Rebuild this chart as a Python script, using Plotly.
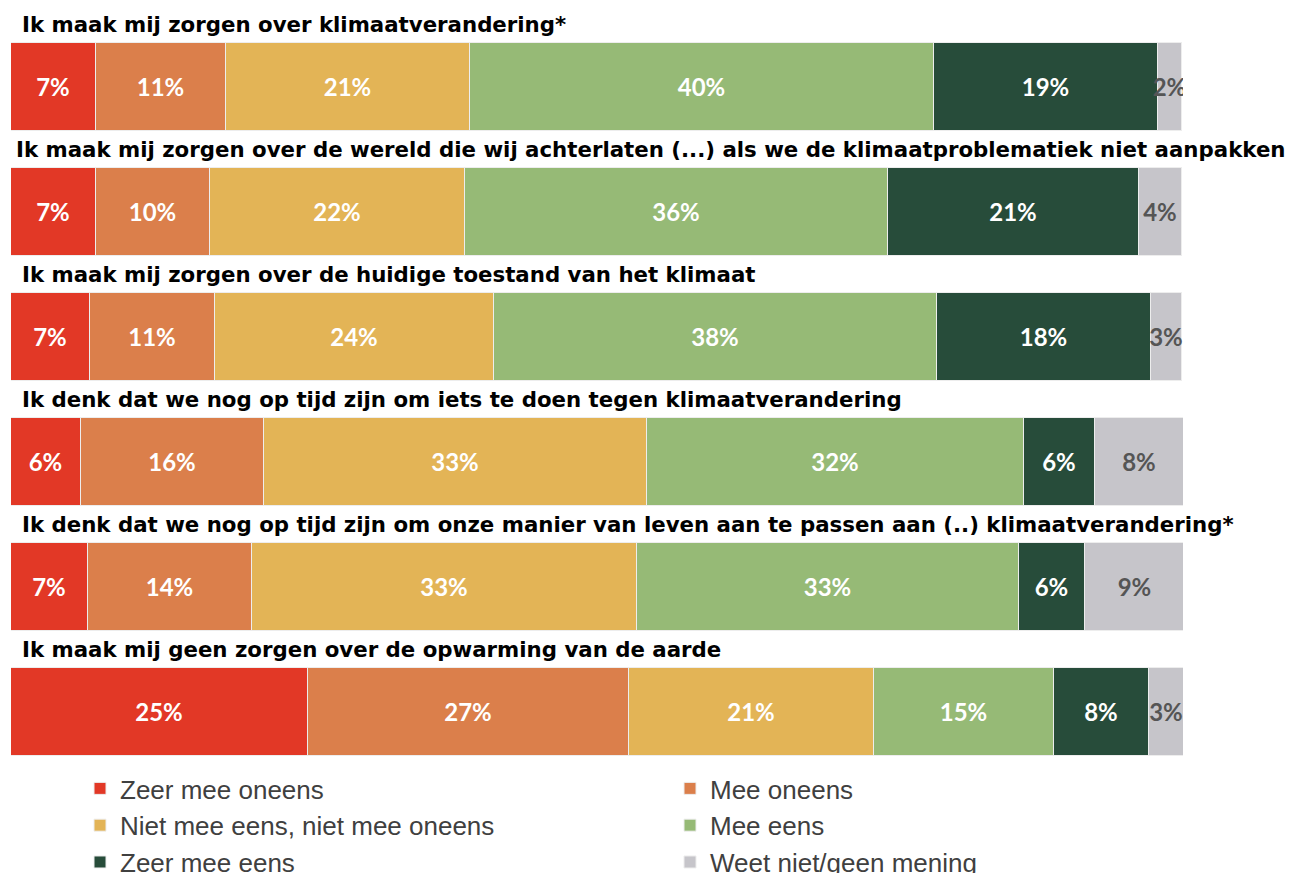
import plotly.graph_objects as go

statements = [
    "Ik maak mij zorgen over klimaatverandering*",
    "Ik maak mij zorgen over de wereld die wij achterlaten (...) als we de klimaatproblematiek niet aanpakken",
    "Ik maak mij zorgen over de huidige toestand van het klimaat",
    "Ik denk dat we nog op tijd zijn om iets te doen tegen klimaatverandering",
    "Ik denk dat we nog op tijd zijn om onze manier van leven aan te passen aan (..) klimaatverandering*",
    "Ik maak mij geen zorgen over de opwarming van de aarde",
]

categories = ["Zeer mee oneens", "Mee oneens", "Niet mee eens, niet mee oneens",
              "Mee eens", "Zeer mee eens", "Weet niet/geen mening"]

zeer_mee_oneens = [7.25, 7.25, 6.7, 6.0, 6.6, 25.3]
mee_oneens = [11.1, 9.7, 10.7, 15.6, 14.0, 27.4]
neutraal = [20.8, 21.8, 23.8, 32.7, 32.8, 20.9]
mee_eens = [39.6, 36.1, 37.8, 32.1, 32.6, 15.4]
zeer_mee_eens = [19.1, 21.4, 18.3, 6.1, 5.6, 8.1]
weet_niet = [2.1, 3.7, 2.6, 7.6, 8.6, 3.0]

series = [zeer_mee_oneens, mee_oneens, neutraal, mee_eens, zeer_mee_eens, weet_niet]
colors = ["#E23826", "#DB7F4B", "#E3B456", "#96BA76", "#274C3A", "#C6C5CA"]
text_colors = ["white", "white", "white", "white", "white", "#555555"]
legend_ids = ["legend", "legend2", "legend", "legend2", "legend", "legend2"]

W, H = 1286, 873
ml, mr, mt, mb = 3, 111, 2, 111
plot_w = W - ml - mr
plot_h = H - mt - mb
row0_center = 79
row_step = 125
bar_px = 88

y_top = -(row0_center - mt) / row_step
y_bot = (H - mb - row0_center) / row_step
ypos = list(range(len(statements)))

title_font = "DejaVu Sans"
label_font = "Lato"
fig = go.Figure()
for name, vals, col, tc, lg in zip(categories, series, colors, text_colors, legend_ids):
    fig.add_trace(go.Bar(
        y=ypos, x=vals, name=name, orientation="h", legend=lg,
        marker=dict(color=col, line=dict(color="#EDEDED", width=1)),
        width=bar_px / row_step,
        texttemplate="%{x:.0f}%", textposition="inside", insidetextanchor="middle",
        textangle=0, constraintext="none",
        textfont=dict(family=label_font, size=24, color=tc, weight="bold"),
        hoverinfo="skip",
    ))

for i, s in enumerate(statements):
    fig.add_annotation(
        x=0, xref="paper", xanchor="left", xshift=(3 if i == 1 else 9),
        y=i - bar_px / row_step / 2, yref="y", yanchor="middle", yshift=19,
        text=s, showarrow=False,
        font=dict(family=title_font, size=21.3, color="black", weight="bold"),
    )

legend_font = dict(family="Liberation Sans", size=26, color="#404040")
fig.update_layout(
    width=W, height=H, barmode="stack", bargap=0,
    margin=dict(l=ml, r=mr, t=mt, b=mb, autoexpand=False),
    plot_bgcolor="white", paper_bgcolor="white",
    xaxis=dict(range=[0, 100], visible=False, fixedrange=True),
    yaxis=dict(range=[y_bot, y_top], visible=False, fixedrange=True),
    legend=dict(
        orientation="v", x=(72 - ml) / plot_w, xanchor="left",
        y=0.0066, yanchor="top", font=legend_font,
        traceorder="normal", itemclick=False, bgcolor="rgba(0,0,0,0)",
    ),
    legend2=dict(
        orientation="v", x=(662 - ml) / plot_w, xanchor="left",
        y=0.0066, yanchor="top", font=legend_font,
        traceorder="normal", itemclick=False, bgcolor="rgba(0,0,0,0)",
    ),
    showlegend=True,
)

fig.write_html("out.html")
